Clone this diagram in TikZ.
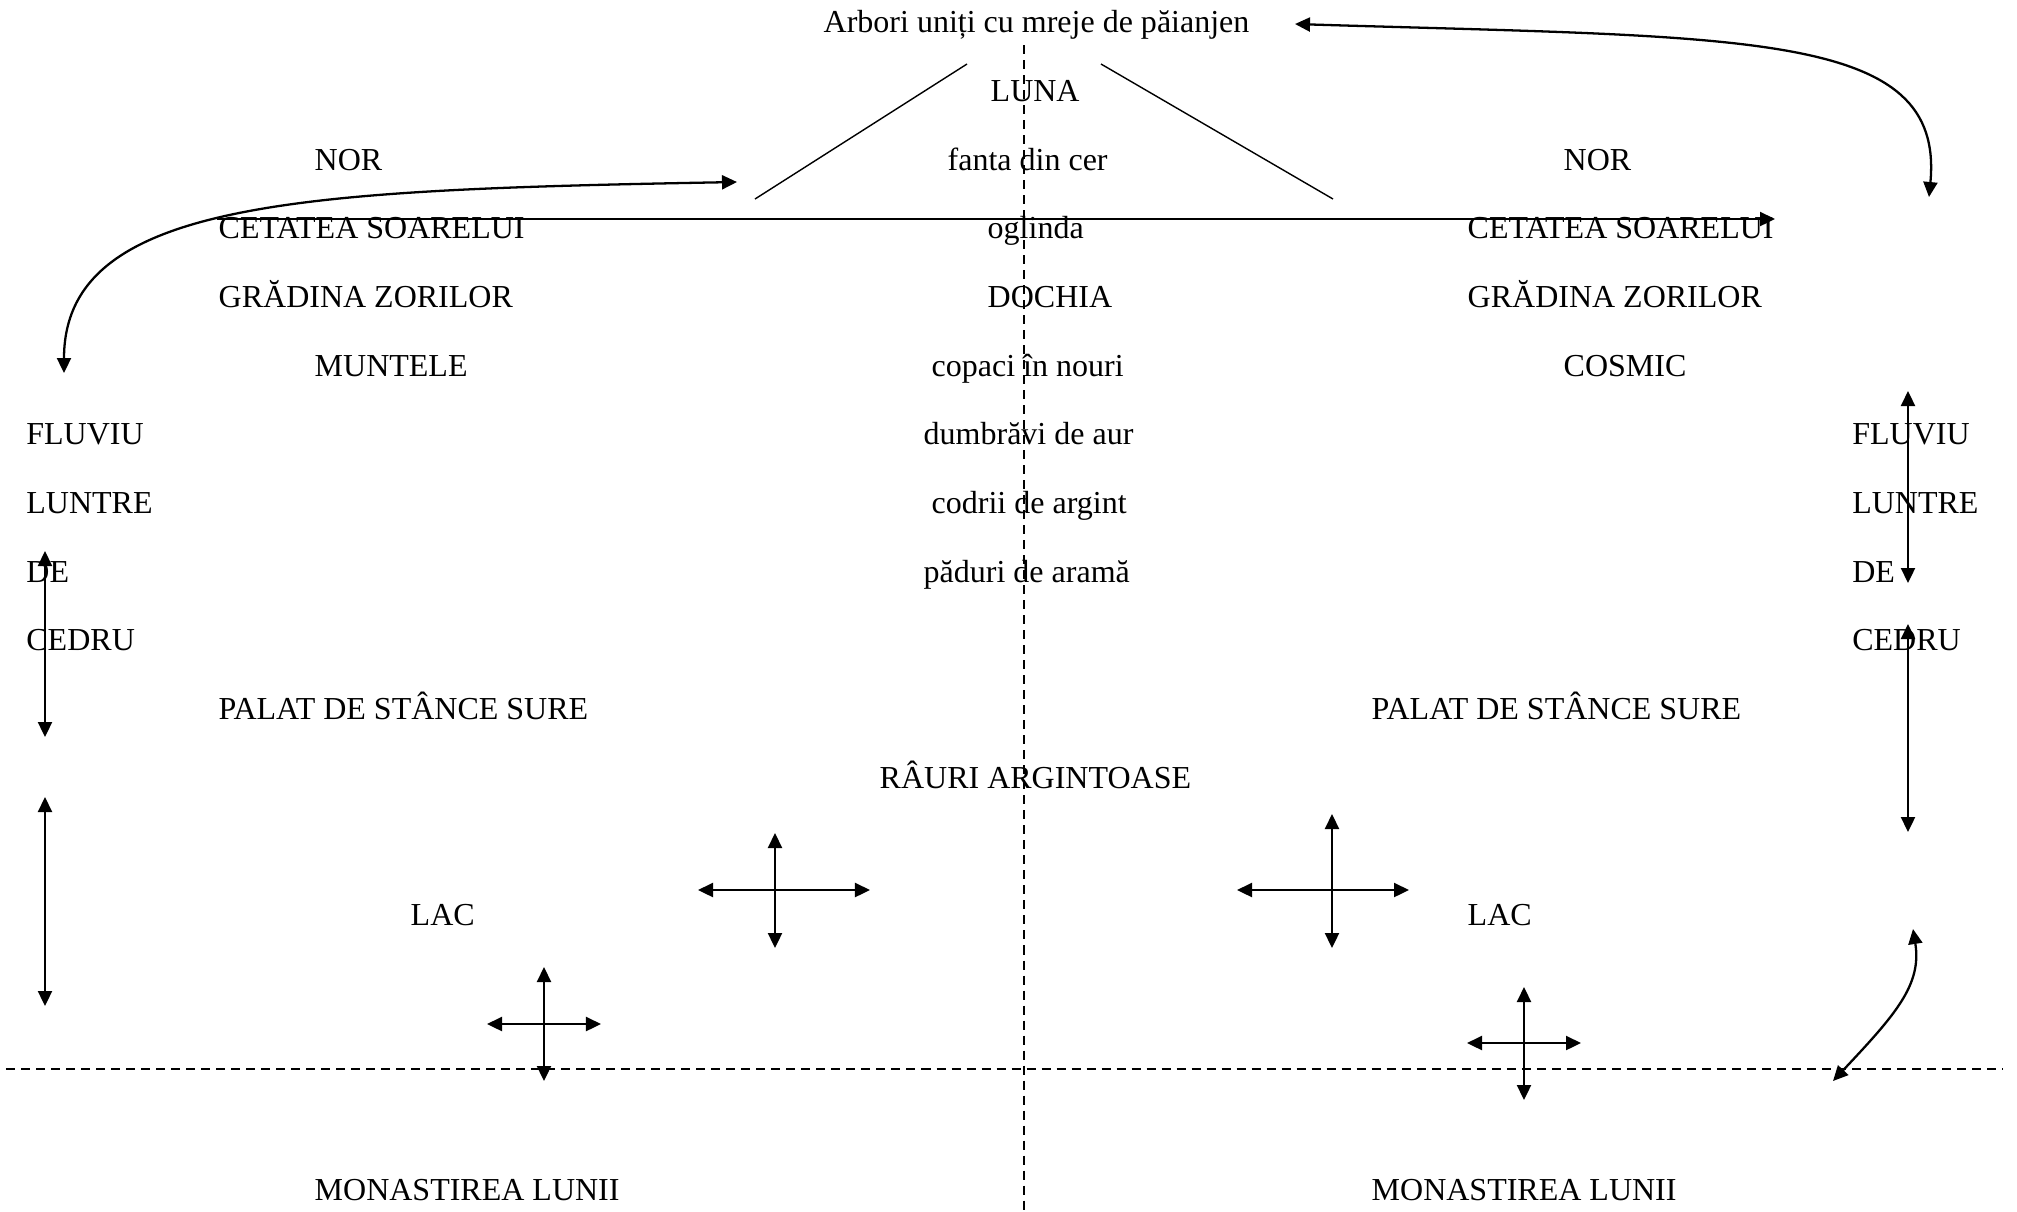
\documentclass[tikz,border=0pt]{standalone}
\usepackage{fontspec}
\setmainfont{Liberation Serif}
\usetikzlibrary{arrows.meta}

\begin{document}
\begin{tikzpicture}[x=0.01cm, y=-0.01cm,
    >={Triangle[length=1.5mm, width=1.4mm]},
    txt/.style={anchor=base west, inner sep=0pt, font=\fontsize{9.1}{11}\selectfont},
    arr/.style={line width=0.65pt},
    axis/.style={line width=0.45pt, dash pattern=on 0.09cm off 0.06cm}]
    \useasboundingbox (0,0) rectangle (2017,1211);
    % Nodes (centre)
    \node[txt] (Arbori) at (823,32.6) {Arbori uniți cu mreje de păianjen};
    \node[txt] (Luna) at (990,101.3) {LUNA};
    \node[txt] (Fanta) at (947,170) {fanta din cer};
    \node[txt] (Oglinda) at (987,238.7) {oglinda};
    \node[txt] (Dochia) at (987,307.4) {DOCHIA};
    \node[txt] (Copaci) at (931,376.1) {copaci în nouri};
    \node[txt] (Dumbravi) at (923,444.8) {dumbrăvi de aur};
    \node[txt] (Codrii) at (931,513.5) {codrii de argint};
    \node[txt] (Paduri) at (923,582.2) {păduri de aramă};
    \node[txt] (Rauri) at (879,788.3) {RÂURI ARGINTOASE};
    % Nodes (left)
    \node[txt] (LNor) at (314,170) {NOR};
    \node[txt] (LCetatea) at (218,238.7) {CETATEA SOARELUI};
    \node[txt] (LGradina) at (218,307.4) {GRĂDINA ZORILOR};
    \node[txt] (LMuntele) at (314,376.1) {MUNTELE};
    \node[txt] (LFluviu) at (25.7,444.8) {FLUVIU};
    \node[txt] (LLuntre) at (25.7,513.5) {LUNTRE};
    \node[txt] (LDe) at (25.7,582.2) {DE};
    \node[txt] (LCedru) at (25.7,650.9) {CEDRU};
    \node[txt] (LPalat) at (218,719.6) {PALAT DE STÂNCE SURE};
    \node[txt] (LLac) at (410,925.7) {LAC};
    \node[txt] (LMonastirea) at (314,1200.5) {MONASTIREA LUNII};
    % Nodes (right)
    \node[txt] (RNor) at (1563,170) {NOR};
    \node[txt] (RCetatea) at (1467,238.7) {CETATEA SOARELUI};
    \node[txt] (RGradina) at (1467,307.4) {GRĂDINA ZORILOR};
    \node[txt] (RCosmic) at (1563,376.1) {COSMIC};
    \node[txt] (RFluviu) at (1851.6,444.8) {FLUVIU};
    \node[txt] (RLuntre) at (1851.6,513.5) {LUNTRE};
    \node[txt] (RDe) at (1851.6,582.2) {DE};
    \node[txt] (RCedru) at (1851.6,650.9) {CEDRU};
    \node[txt] (RPalat) at (1371,719.6) {PALAT DE STÂNCE SURE};
    \node[txt] (RLac) at (1467,925.7) {LAC};
    \node[txt] (RMonastirea) at (1371,1200.5) {MONASTIREA LUNII};
    % Free ends
    \coordinate (AxisTop) at (1024,45);
    \coordinate (AxisBottom) at (1024,1211);
    \coordinate (AxisLeft) at (6,1069);
    \coordinate (AxisRight) at (2003,1069);
    \coordinate (RoofTop1) at (967,64);
    \coordinate (RoofEnd1) at (755,199);
    \coordinate (RoofTop2) at (1101,64);
    \coordinate (RoofEnd2) at (1333,199);
    \coordinate (SunStart) at (217,219);
    \coordinate (SunEnd) at (1775,219);
    \coordinate (CloudL) at (737,182);
    \coordinate (RiverL) at (64,373);
    \coordinate (WebR) at (1295,24);
    \coordinate (RiverR) at (1929,197);
    \coordinate (LakeR) at (1913,929);
    \coordinate (ShoreR) at (1833,1081);
    \coordinate (X1) at (544,1024);
    \coordinate (X2) at (775,890);
    \coordinate (X3) at (1332,890);
    \coordinate (X4) at (1524,1043);
    % Dashed axes
    \draw[axis] (AxisTop) -- (AxisBottom);
    \draw[axis] (AxisLeft) -- (AxisRight);
    % Roof
    \draw[line width=0.4pt] (RoofTop1) -- (RoofEnd1);
    \draw[line width=0.4pt] (RoofTop2) -- (RoofEnd2);
    % Arrows
    \draw[->, arr] (SunStart) -- (SunEnd);
    \draw[<->, arr] (CloudL) .. controls (300,190) and (64,200) .. (RiverL);
    \draw[<->, arr] (WebR) .. controls (1750,38) and (1945,30) .. (RiverR);
    \draw[<->, arr] (LakeR) .. controls (1922,985) and (1895,1015) .. (ShoreR);
    \draw[<->, arr] (45,551) -- (45,737);
    \draw[<->, arr] (45,797) -- (45,1006);
    \draw[<->, arr] (1908,391) -- (1908,583);
    \draw[<->, arr] (1908,624) -- (1908,832);
    % Crosses
    \draw[<->, arr] (X1) ++(-57,0) -- ++(114,0);
    \draw[<->, arr] (X1) ++(0,-57) -- ++(0,114);
    \draw[<->, arr] (X2) ++(-77,0) -- ++(172,0);
    \draw[<->, arr] (X2) ++(0,-57) -- ++(0,115);
    \draw[<->, arr] (X3) ++(-95,0) -- ++(172,0);
    \draw[<->, arr] (X3) ++(0,-76) -- ++(0,134);
    \draw[<->, arr] (X4) ++(-57,0) -- ++(114,0);
    \draw[<->, arr] (X4) ++(0,-56) -- ++(0,113);
\end{tikzpicture}
\end{document}
